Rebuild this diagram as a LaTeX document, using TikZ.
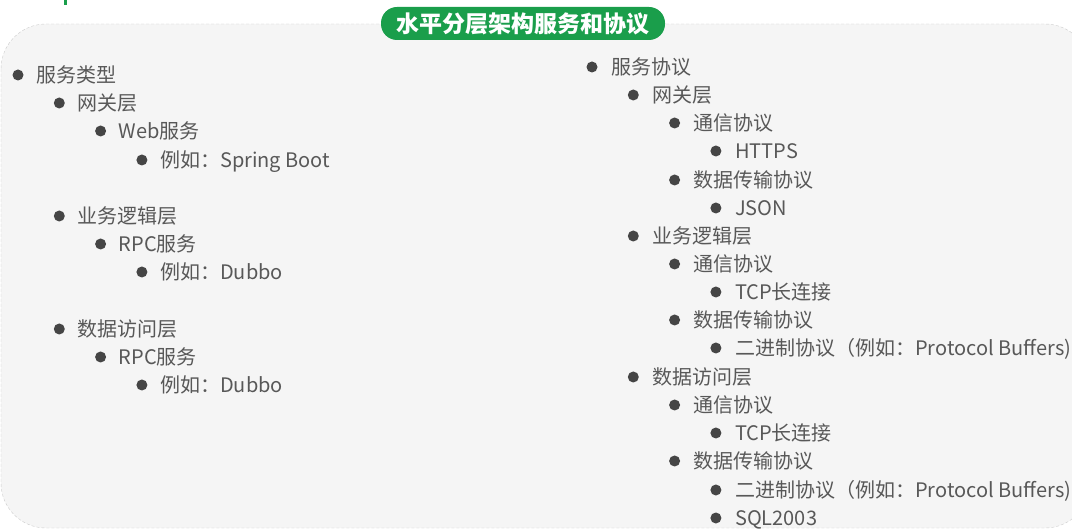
\documentclass[tikz,border=0pt]{standalone}
\usepackage{fontspec}
\setmainfont{Noto Sans CJK SC}
\definecolor{panelgray}{HTML}{F5F5F5}
\definecolor{edgegray}{HTML}{CCCCCC}
\definecolor{titlegreen}{HTML}{1A9E4B}
\definecolor{txtgray}{HTML}{585858}
\definecolor{dotgray}{HTML}{454545}
\begin{document}
\begin{tikzpicture}[x=1pt,y=-1pt,
    dot/.style={circle,fill=dotgray,inner sep=0pt,minimum size=11pt},
    entry/.style={anchor=base west,inner sep=0pt,text=txtgray,font=\fontsize{20}{22}\selectfont},
    banner/.style={fill=titlegreen,text=white,rounded corners=16pt,minimum width=284pt,minimum height=33pt,inner sep=0pt,font=\fontsize{23}{25}\selectfont\bfseries}]
  \useasboundingbox (0,0) rectangle (1072,529);
  % panel
  \draw[edgegray,densely dashed,fill=panelgray,rounded corners=45pt] (1,24) rectangle (1090,528);
  \fill[titlegreen] (64,0) rectangle (67,5);
  \node[banner] (title) at (523,23.5) {水平分层架构服务和协议};
  % left list: service types
  \foreach \lv/\y/\txt [count=\i] in {0/75/服务类型, 1/103/网关层, 2/131/Web服务, 3/160/例如：Spring Boot,
      1/216/业务逻辑层, 2/244/RPC服务, 3/272/例如：Dubbo,
      1/329/数据访问层, 2/357/RPC服务, 3/385/例如：Dubbo} {
    \node[dot] (ld\i) at ({18+41.3*\lv},\y) {};
    \node[entry] (lt\i) at ({36+41.3*\lv},\y+7.5) {\txt};
  }
  % right list: protocols
  \foreach \lv/\y/\txt [count=\i] in {0/67/服务协议, 1/95/网关层, 2/123/通信协议, 3/151/HTTPS,
      2/180/数据传输协议, 3/208/JSON, 1/236/业务逻辑层, 2/264/通信协议, 3/292/TCP长连接,
      2/320/数据传输协议, 3/348/{二进制协议（例如：Protocol Buffers)}, 1/377/数据访问层,
      2/405/通信协议, 3/433/TCP长连接, 2/461/数据传输协议,
      3/490/{二进制协议（例如：Protocol Buffers)}, 3/518/SQL2003} {
    \node[dot] (rd\i) at ({592+41.3*\lv},\y) {};
    \node[entry] (rt\i) at ({611+41.3*\lv},\y+7.5) {\txt};
  }
\end{tikzpicture}
\end{document}
